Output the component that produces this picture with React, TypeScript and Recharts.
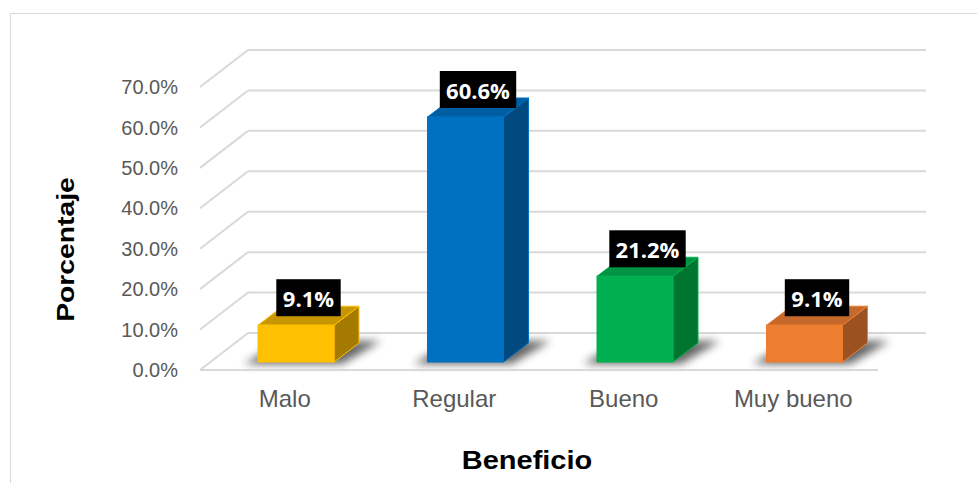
import React from 'react';
import { BarChart, Bar, XAxis, YAxis, CartesianGrid, LabelList, Label } from 'recharts';

// ---- data ----
const categories = ['Malo', 'Regular', 'Bueno', 'Muy bueno'];
const percentages = [9.1, 60.6, 21.2, 9.1];
const yTicks = [0, 10, 20, 30, 40, 50, 60, 70];

const data = categories.map((c, i) => ({ category: c, value: percentages[i] }));

// ---- style ----
const FRONT = ['#FFC000', '#0070C0', '#00B050', '#ED7D31'];
const TOP = ['#C89600', '#005EA3', '#009443', '#C4682B'];
const SIDE = ['#A47B00', '#004A80', '#00752F', '#9C5220'];
const GRID = '#d9d9d9';

const GRID_DX = 48;
const GRID_DY = 37;
const BAR_OX = 11;
const BAR_OY = 8;
const DEPTH_X = 25;
const DEPTH_Y = 19;

const CHAR_W: Record<string, number> = { '.': 6.1, '%': 18.3 };
const textWidth = (s: string) => s.split('').reduce((a, ch) => a + (CHAR_W[ch] ?? 12.0), 0);

const gridLine = (p: any) => {
  const { x1, y1, x2, index } = p;
  return (
    <g key={`grid-${index}-${y1}`}>
      <line x1={x1} y1={y1} x2={x1 + GRID_DX} y2={y1 - GRID_DY} stroke={GRID} strokeWidth={2} />
      <line x1={x1 + GRID_DX} y1={y1 - GRID_DY} x2={x2 + GRID_DX} y2={y1 - GRID_DY} stroke={GRID} strokeWidth={2} />
    </g>
  );
};

const Bar3D = (p: any) => {
  const { x, y, width, height, index } = p;
  const fx = x + BAR_OX;
  const fy = y - BAR_OY;
  const fb = fy + height;
  const fid = `shadow-blur-${index}`;
  const shadow = [
    [fx - 14, fb + 2],
    [fx + width + 8, fb + 2],
    [fx + width + DEPTH_X + 22, fb - DEPTH_Y - 2],
    [fx + DEPTH_X, fb - DEPTH_Y - 2],
  ]
    .map((q) => q.join(','))
    .join(' ');
  const top = [
    [fx, fy],
    [fx + DEPTH_X, fy - DEPTH_Y],
    [fx + width + DEPTH_X, fy - DEPTH_Y],
    [fx + width, fy],
  ]
    .map((q) => q.join(','))
    .join(' ');
  const side = [
    [fx + width, fy],
    [fx + width + DEPTH_X, fy - DEPTH_Y],
    [fx + width + DEPTH_X, fb - DEPTH_Y],
    [fx + width, fb],
  ]
    .map((q) => q.join(','))
    .join(' ');
  const edge = FRONT[index];
  return (
    <g>
      <defs>
        <filter id={fid} x="-50%" y="-50%" width="200%" height="200%">
          <feGaussianBlur stdDeviation={4} />
        </filter>
      </defs>
      <polygon points={shadow} fill="#000" opacity={0.6} filter={`url(#${fid})`} />
      <polygon points={side} fill={SIDE[index]} stroke={edge} strokeWidth={1} strokeLinejoin="round" />
      <polygon points={top} fill={TOP[index]} stroke={edge} strokeWidth={1} strokeLinejoin="round" />
      <rect x={fx} y={fy} width={width} height={height} fill={FRONT[index]} stroke={edge} strokeWidth={1} />
    </g>
  );
};

const ValueLabel = (p: any) => {
  const { x, y, width, value } = p;
  const text = `${Number(value).toFixed(1)}%`;
  const w = textWidth(text) + 16;
  const h = 37;
  const cx = Number(x) + BAR_OX + (Number(width) + DEPTH_X) / 2;
  const bottom = Number(y) - BAR_OY - 9;
  return (
    <g>
      <rect x={cx - w / 2} y={bottom - h} width={w} height={h} fill="#000" />
      <text
        x={cx}
        y={bottom - 9}
        textAnchor="middle"
        fill="#fff"
        fontFamily="'Open Sans', sans-serif"
        fontWeight={700}
        fontSize={22}
      >
        {text}
      </text>
    </g>
  );
};

const YTitle = (p: any) => {
  const vb = p.viewBox || { x: 0, y: 0, width: 0, height: 0 };
  const tx = vb.x + 74;
  const ty = vb.y + vb.height / 2 + 21;
  return (
    <text
      x={0}
      y={0}
      transform={`translate(${tx},${ty}) rotate(-90) scale(1.18,1)`}
      textAnchor="middle"
      fill="#000"
      fontFamily="'Liberation Sans', Arial, sans-serif"
      fontWeight={700}
      fontSize={24}
    >
      Porcentaje
    </text>
  );
};

const XTitle = (p: any) => {
  const vb = p.viewBox || { x: 0, y: 0, width: 0, height: 0 };
  const tx = vb.x + vb.width / 2 - 12;
  const ty = vb.y + 99;
  return (
    <text
      x={0}
      y={0}
      transform={`translate(${tx},${ty}) scale(1.16,1)`}
      textAnchor="middle"
      fill="#000"
      fontFamily="'Liberation Sans', Arial, sans-serif"
      fontWeight={700}
      fontSize={25}
    >
      Beneficio
    </text>
  );
};

export default function App() {
  return (
    <div
      style={{
        position: 'fixed',
        left: 0,
        top: 0,
        width: 977,
        height: 483,
        overflow: 'hidden',
        background: '#fff',
      }}
    >
      <div
        style={{
          position: 'absolute',
          left: 10,
          top: 13,
          width: 1200,
          height: 1000,
          border: `1px solid ${GRID}`,
        }}
      />
      <div style={{ position: 'absolute', left: 0, top: 0 }}>
        <BarChart width={977} height={483} data={data} margin={{ top: 87, right: 99, bottom: 0, left: 0 }}>
          <CartesianGrid horizontal={gridLine} vertical={false} />
          <XAxis
            dataKey="category"
            height={113}
            interval={0}
            tickLine={false}
            tickSize={6}
            tickMargin={14}
            axisLine={{ stroke: GRID, strokeWidth: 2 }}
            tick={{ fill: '#595959', fontSize: 24, fontFamily: "'Liberation Sans', Arial, sans-serif" }}
          >
            <Label content={XTitle} />
          </XAxis>
          <YAxis
            width={200}
            domain={[0, 70]}
            ticks={yTicks}
            interval={0}
            tickLine={false}
            axisLine={false}
            tickSize={6}
            tickMargin={16}
            tickFormatter={(v: number) => `${v.toFixed(1)}%`}
            tick={{ fill: '#595959', fontSize: 20, fontFamily: "'Liberation Sans', Arial, sans-serif" }}
          >
            <Label content={YTitle} />
          </YAxis>
          <Bar dataKey="value" barSize={76} shape={Bar3D} isAnimationActive={false}>
            <LabelList dataKey="value" content={ValueLabel} />
          </Bar>
        </BarChart>
      </div>
    </div>
  );
}
